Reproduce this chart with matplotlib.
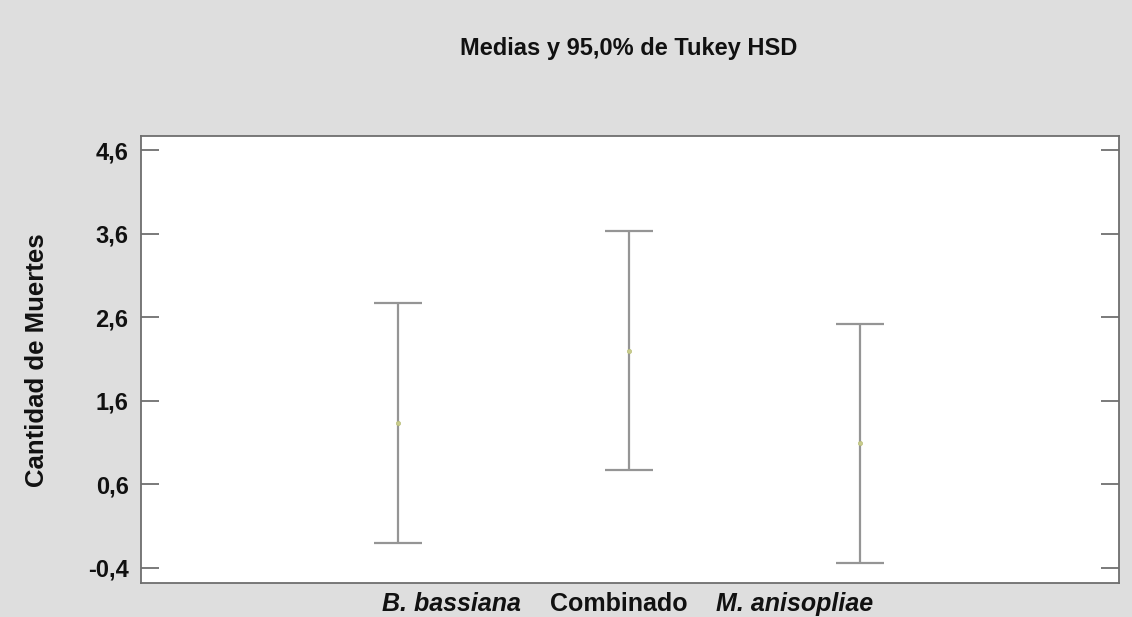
import matplotlib.pyplot as plt

plt.rcParams['font.family'] = ['Liberation Sans', 'DejaVu Sans']

# data (Tukey HSD 95% intervals)
groups = ['B. bassiana', 'Combinado', 'M. anisopliae']
means = [1.33, 2.20, 1.09]
lower = [-0.10, 0.77, -0.34]
upper = [2.77, 3.63, 2.52]
yticks = [-0.4, 0.6, 1.6, 2.6, 3.6, 4.6]

xpos = [1, 2, 3]
err_lo = [m - l for m, l in zip(means, lower)]
err_hi = [u - m for m, u in zip(means, upper)]

fig = plt.figure(figsize=(11.32, 6.17), dpi=100, facecolor='#dedede')
ax = fig.add_axes([0.1246, 0.0551, 0.8639, 0.7245])
ax.set_facecolor('white')

ax.errorbar(xpos, means, yerr=[err_lo, err_hi], fmt='none',
            ecolor='#959595', elinewidth=1.6, capsize=17, capthick=1.6)
ax.plot(xpos, means, 'o', ms=3, color='#c9cc8c', mec='#b8bd78', mew=0.5)

ax.set_xlim(-0.1126, 4.121)
ax.set_ylim(-0.58, 4.77)
ax.set_xticks([])
ax.set_yticks(yticks)
ax.set_yticklabels([f'{v:.1f}'.replace('.', ',') for v in yticks],
                   fontsize=17, fontweight='bold', color='#111111')
ax.tick_params(axis='y', direction='in', length=13, width=1.4,
               color='#7a7a7a', right=True, pad=9)

for s in ax.spines.values():
    s.set_color('#6e6e6e')
    s.set_linewidth(1.3)

# category labels (centred under the plot, not under the bars)
label_x = [451, 619, 795]
label_style = ['italic', 'normal', 'italic']
for name, px, st in zip(groups, label_x, label_style):
    fig.text(px / 1132, 1 - 611 / 617, name, ha='center', va='baseline',
             fontsize=18, fontweight='bold', style=st, color='#111111')

fig.text(0.555, 1 - 49 / 617, 'Medias y 95,0% de Tukey HSD', ha='center',
         va='center', fontsize=17, fontweight='bold', color='#111111')
fig.text(37 / 1132, 1 - 360 / 617, 'Cantidad de Muertes', rotation=90,
         ha='center', va='center', fontsize=18.5, fontweight='bold',
         color='#111111')

fig.savefig('out.png', dpi=100, facecolor=fig.get_facecolor())
